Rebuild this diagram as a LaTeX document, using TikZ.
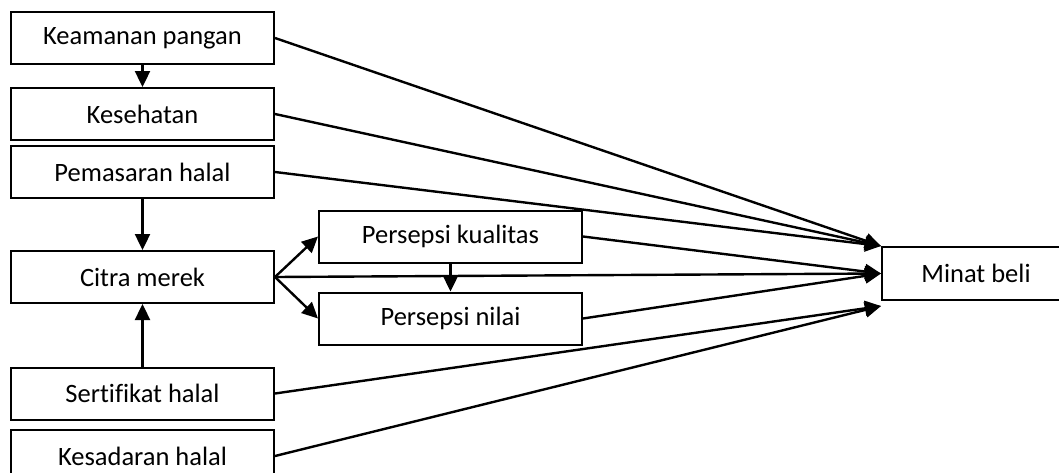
\documentclass[tikz,border=0pt]{standalone}
\usepackage{fontspec}
\setmainfont{Carlito}[Ligatures=NoCommon]
\usetikzlibrary{arrows.meta}

\begin{document}
\begin{tikzpicture}[x=1pt,y=-1pt,
  var/.style={draw,line width=2pt,minimum width=263pt,minimum height=52pt,
    inner sep=0pt,font=\fontsize{26.5}{31}\selectfont},
  link/.style={line width=2.4pt,-{Triangle[length=16pt,width=15pt]}}]
\useasboundingbox (0,0) rectangle (1059,472);
% left column
\node[var] (keamanan) at (142.5,38) {Keamanan pangan};
\node[var] (kesehatan) at (142.5,114) {Kesehatan};
\node[var] (pemasaran) at (142.5,172) {Pemasaran halal};
\node[var] (citra) at (142.5,277) {Citra merek};
\node[var] (sertifikat) at (142.5,393.5) {Sertifikat halal};
\node[var] (kesadaran) at (142.5,456) {Kesadaran halal};
% middle
\node[var] (kualitas) at (450.5,236.5) {Persepsi kualitas};
\node[var] (nilai) at (450.5,318.5) {Persepsi nilai};
% right
\node[var,minimum width=188pt,minimum height=53pt] (minat) at (976,273.5) {Minat beli};
\coordinate (minatlow) at ([yshift=-5pt]minat.south west);

\draw[link] (keamanan) -- (kesehatan);
\draw[link] (pemasaran) -- (citra);
\draw[link] (sertifikat) -- (citra);
\draw[link] (citra.east) -- (kualitas.west);
\draw[link] (citra.east) -- (nilai.west);
\draw[link] (kualitas) -- (nilai);

\draw[link] (keamanan.east) -- (minat.north west);
\draw[link] (kesehatan.east) -- (minat.north west);
\draw[link] (pemasaran.east) -- (minat.north west);
\draw[link] (citra.east) -- (minat.west);
\draw[link] (kualitas.east) -- (minat.west);
\draw[link] (nilai.east) -- (minat.west);
\draw[link] (sertifikat.east) -- (minatlow);
\draw[link] (kesadaran.east) -- (minatlow);
\end{tikzpicture}
\end{document}
